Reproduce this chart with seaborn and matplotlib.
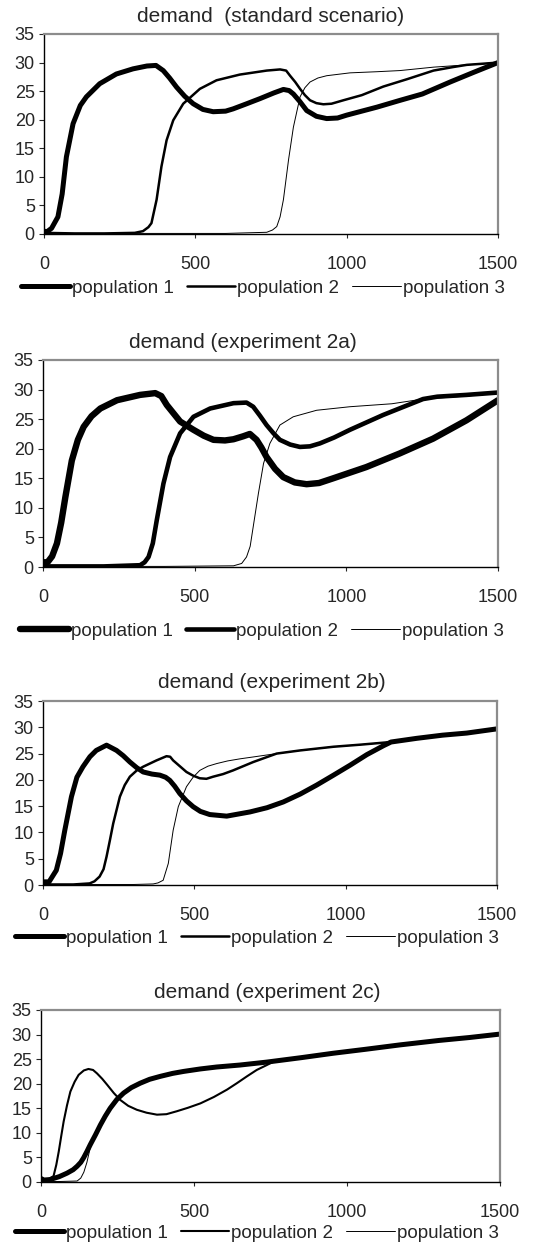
import matplotlib
matplotlib.use("Agg")
import matplotlib.pyplot as plt
import seaborn as sns
import pandas as pd

# ---------------- data ----------------
titles = ["demand  (standard scenario)", "demand (experiment 2a)",
          "demand (experiment 2b)", "demand (experiment 2c)"]
labels = ["population 1", "population 2", "population 3"]
x_ticks = [0, 500, 1000, 1500]
y_ticks = [0, 5, 10, 15, 20, 25, 30, 35]

# panel 1 : standard scenario
s1_p1_x = [0, 10, 25, 46, 60, 74, 96, 120, 140, 184, 239, 294, 340, 370, 394, 415, 438, 465, 493, 525, 559, 600,
           625, 670, 714, 760, 791, 810, 824, 845, 868, 900, 934, 970, 1000, 1100, 1177, 1250, 1342, 1420, 1500]
s1_p1_y = [0.5, 0.4, 1, 3, 7, 13.5, 19.3, 22.5, 24, 26.3, 28, 28.9, 29.4, 29.5, 28.6, 27.3, 25.7, 24.1, 22.8, 21.8,
           21.4, 21.5, 21.9, 22.8, 23.7, 24.7, 25.3, 25.1, 24.5, 23.2, 21.6, 20.6, 20.2, 20.3, 20.8, 22.2, 23.4, 24.5,
           26.6, 28.3, 30]
s1_p2_x = [0, 100, 200, 300, 327, 345, 355, 372, 388, 405, 427, 460, 515, 570, 647, 736, 780, 800, 813, 830, 846, 862,
           879, 900, 923, 950, 989, 1050, 1121, 1200, 1287, 1350, 1397, 1450, 1500]
s1_p2_y = [0.2, 0.1, 0.1, 0.2, 0.5, 1.2, 1.9, 6, 11.8, 16.4, 19.9, 22.8, 25.4, 26.9, 27.9, 28.6, 28.8, 28.6, 27.7,
           26.6, 25.4, 24.3, 23.4, 22.9, 22.7, 22.8, 23.4, 24.3, 25.8, 27.1, 28.6, 29.2, 29.6, 29.8, 30]
s1_p3_x = [0, 300, 600, 736, 755, 769, 780, 791, 808, 824, 846, 862, 879, 905, 934, 1011, 1100, 1176, 1287, 1397, 1500]
s1_p3_y = [0.1, 0.1, 0.1, 0.3, 0.7, 1.3, 3, 6, 13, 18.7, 24, 25.6, 26.6, 27.3, 27.7, 28.2, 28.4, 28.6, 29.2, 29.6, 30]

# panel 2 : experiment 2a
s2_p1_x = [0, 15, 30, 46, 60, 74, 95, 115, 134, 160, 189, 244, 320, 370, 390, 408, 430, 452, 496, 530, 562, 600, 628,
           660, 682, 704, 720, 737, 765, 792, 830, 869, 910, 957, 1066, 1176, 1286, 1396, 1500]
s2_p1_y = [0.8, 0.8, 1.8, 4, 7.5, 11.9, 18, 21.5, 23.7, 25.5, 26.8, 28.2, 29.1, 29.4, 28.9, 27.4, 26, 24.6, 23.2,
           22.2, 21.5, 21.4, 21.6, 22.1, 22.5, 21.5, 20.2, 18.6, 16.6, 15.2, 14.3, 14, 14.2, 15, 16.9, 19.2, 21.7,
           24.8, 28.2]
s2_p2_x = [0, 200, 320, 335, 348, 362, 375, 397, 419, 452, 496, 551, 628, 671, 693, 715, 737, 760, 781, 815, 847, 880,
           913, 960, 1012, 1121, 1253, 1300, 1396, 1500]
s2_p2_y = [0.1, 0.1, 0.3, 0.8, 1.7, 4, 7.9, 14.1, 18.6, 22.6, 25.4, 26.8, 27.7, 27.8, 27.1, 25.6, 24, 22.6, 21.5,
           20.7, 20.3, 20.4, 20.9, 21.9, 23.2, 25.7, 28.4, 28.8, 29.1, 29.5]
s2_p3_x = [0, 400, 628, 655, 671, 683, 693, 710, 727, 748, 781, 825, 902, 1012, 1150, 1253, 1396, 1500]
s2_p3_y = [0.1, 0.1, 0.2, 0.6, 1.7, 3.5, 6.8, 12.4, 17.5, 20.9, 24, 25.4, 26.5, 27.1, 27.6, 28.4, 28.9, 29.4]

# panel 3 : experiment 2b
s3_p1_x = [0, 20, 44, 58, 72, 94, 112, 132, 155, 176, 210, 243, 265, 287, 310, 331, 360, 386, 405, 419, 435, 452, 474,
           496, 520, 551, 607, 684, 740, 794, 850, 904, 960, 1015, 1070, 1125, 1150, 1235, 1320, 1400, 1500]
s3_p1_y = [0.6, 0.6, 2.8, 6, 10.4, 16.8, 20.5, 22.5, 24.4, 25.6, 26.6, 25.6, 24.6, 23.4, 22.3, 21.5, 21.1, 20.9,
           20.5, 19.9, 18.8, 17.4, 16, 14.9, 14, 13.4, 13.1, 13.9, 14.7, 15.8, 17.3, 19, 20.9, 22.8, 24.8, 26.5, 27.2,
           27.9, 28.5, 28.9, 29.7]
s3_p2_x = [0, 100, 154, 170, 187, 200, 210, 221, 232, 254, 270, 287, 310, 331, 375, 408, 420, 430, 452, 474, 496, 518,
           540, 562, 595, 628, 695, 772, 850, 960, 1050, 1150, 1235, 1320, 1400, 1500]
s3_p2_y = [0.1, 0.1, 0.3, 0.7, 1.6, 3, 5.4, 8.5, 11.7, 16.8, 19, 20.6, 21.8, 22.5, 23.7, 24.5, 24.4, 23.7, 22.6,
           21.5, 20.8, 20.3, 20.2, 20.6, 21.1, 21.8, 23.4, 25, 25.6, 26.3, 26.7, 27.2, 27.9, 28.5, 28.9, 29.7]
s3_p3_x = [0, 300, 364, 380, 397, 414, 430, 447, 474, 496, 518, 545, 574, 610, 651, 700, 772, 850, 960, 1050, 1150,
           1235, 1320, 1400, 1500]
s3_p3_y = [0.1, 0.1, 0.2, 0.4, 0.9, 4.1, 10.4, 14.9, 18.7, 20.5, 21.8, 22.6, 23.1, 23.6, 24, 24.4, 25, 25.6, 26.3,
           26.7, 27.2, 27.9, 28.5, 28.9, 29.7]

# panel 4 : experiment 2c
s4_p1_x = [0, 10, 30, 60, 85, 105, 118, 130, 139, 150, 161, 178, 194, 210, 226, 248, 270, 295, 324, 355, 390, 430,
           466, 520, 574, 650, 738, 850, 955, 1060, 1173, 1300, 1400, 1500]
s4_p1_y = [0.7, 0.4, 0.5, 1.1, 1.8, 2.5, 3.2, 4, 4.9, 6.2, 7.6, 9.6, 11.6, 13.4, 15, 16.8, 18.1, 19.2, 20.1, 20.9,
           21.5, 22.1, 22.5, 23, 23.4, 23.8, 24.4, 25.3, 26.2, 27, 27.9, 28.8, 29.4, 30.1]
s4_p2_x = [0, 20, 41, 50, 58, 66, 74, 85, 96, 110, 123, 140, 155, 170, 183, 200, 216, 238, 259, 285, 313, 345, 379,
           410, 444, 480, 521, 565, 608, 640, 673, 705, 738, 760, 850, 955, 1060, 1173, 1300, 1400, 1500]
s4_p2_y = [0.5, 0.4, 1.2, 3.5, 6.2, 9.3, 12.3, 15.6, 18.4, 20.4, 21.8, 22.7, 23, 22.8, 22.1, 21, 19.8, 18.1, 16.7,
           15.5, 14.7, 14.1, 13.7, 13.8, 14.4, 15.1, 16, 17.3, 18.8, 20.1, 21.5, 22.8, 23.8, 24.5, 25.3, 26.2, 27,
           27.9, 28.8, 29.4, 30.1]
s4_p3_x = [0, 60, 118, 130, 140, 150, 161, 178, 194, 210, 226, 248, 270, 295, 324, 355, 390, 430, 466, 520, 574, 650,
           738, 850, 955, 1060, 1173, 1300, 1400, 1500]
s4_p3_y = [0.1, 0.1, 0.2, 0.8, 2, 4, 7, 9.6, 11.6, 13.4, 15, 16.8, 18.1, 19.2, 20.1, 20.9, 21.5, 22.1, 22.5, 23,
           23.4, 23.8, 24.4, 25.3, 26.2, 27, 27.9, 28.8, 29.4, 30.1]

series = [
    [(s1_p1_x, s1_p1_y), (s1_p2_x, s1_p2_y), (s1_p3_x, s1_p3_y)],
    [(s2_p1_x, s2_p1_y), (s2_p2_x, s2_p2_y), (s2_p3_x, s2_p3_y)],
    [(s3_p1_x, s3_p1_y), (s3_p2_x, s3_p2_y), (s3_p3_x, s3_p3_y)],
    [(s4_p1_x, s4_p1_y), (s4_p2_x, s4_p2_y), (s4_p3_x, s4_p3_y)],
]

# ---------------- styling / layout ----------------
sns.set_style("white")
plt.rcParams['font.family'] = ['Liberation Sans', 'DejaVu Sans']

W, H = 536, 1245
fig = plt.figure(figsize=(W / 100, H / 100), dpi=100)

# axes boxes in pixels: left, top, right, bottom
boxes = [(44, 34, 498, 234), (43, 360, 498, 567), (43, 701, 497, 885), (41, 1010, 500, 1182)]
widths = [[3.6, 1.8, 0.7], [4.6, 3.3, 0.7], [3.6, 1.8, 0.7], [3.6, 1.5, 0.7]]
title_x = [0.5, 0.44, 0.504, 0.492]
legend_pos = [(263, 288), (262, 631), (257, 938), (257, 1233)]

for i in range(4):
    l, t, r, b = boxes[i]
    ax = fig.add_axes([l / W, 1 - b / H, (r - l) / W, (b - t) / H])
    for j in range(3):
        xs, ys = series[i][j]
        df = pd.DataFrame({"t": xs, "demand": ys})
        sns.lineplot(data=df, x="t", y="demand", ax=ax, color="black", linewidth=widths[i][j],
                     label=labels[j], estimator=None, sort=False,
                     solid_capstyle="round", solid_joinstyle="round")
    ax.set_xlim(0, 1500)
    ax.set_ylim(0, 35)
    ax.set_xticks(x_ticks)
    ax.set_yticks(y_ticks)
    ax.set_xlabel("")
    ax.set_ylabel("")
    for s in ["left", "bottom"]:
        ax.spines[s].set_color("black")
        ax.spines[s].set_linewidth(1.0)
    for s in ["top", "right"]:
        ax.spines[s].set_color("#8c8c8c")
        ax.spines[s].set_linewidth(1.6)
    ax.tick_params(axis="y", left=True, direction="out", length=3.6, width=0.8, pad=3, labelsize=13)
    ax.tick_params(axis="x", bottom=True, direction="out", length=3, width=0.8, pad=12.5, labelsize=13)
    ax.set_title(titles[i], fontsize=15, x=title_x[i], pad=9)
    lx, ly = legend_pos[i]
    ax.legend(loc="center", bbox_to_anchor=(lx / W, 1 - ly / H), bbox_transform=fig.transFigure,
              ncol=3, frameon=False, fontsize=13.5, handlelength=2.6, handletextpad=0.1,
              columnspacing=0.7, borderpad=0, borderaxespad=0)

fig.savefig("out.png", dpi=100)
